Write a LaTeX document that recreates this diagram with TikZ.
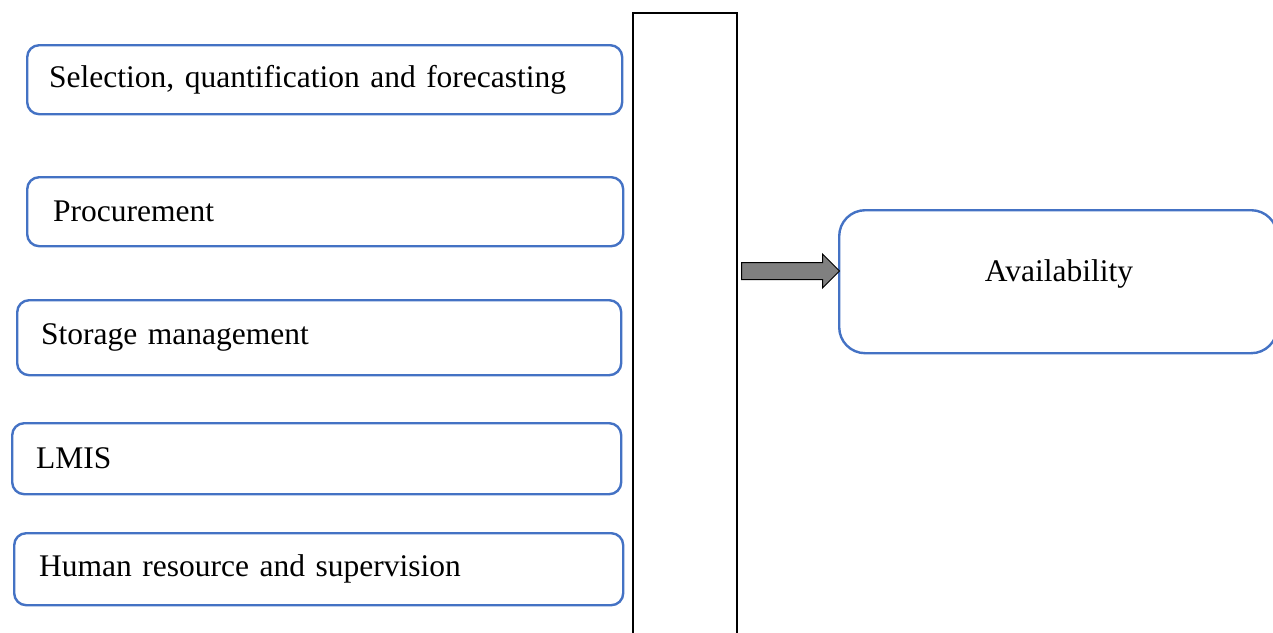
\documentclass[tikz,border=0pt]{standalone}
\usepackage{fontspec}
\setmainfont{Liberation Serif}
\usetikzlibrary{shapes.arrows}
\definecolor{boxblue}{HTML}{4472C4}
\definecolor{arrowgray}{HTML}{808080}
\begin{document}
\begin{tikzpicture}[x=1pt,y=-1pt,
  factor/.style={draw=boxblue, line width=2.4pt, rounded corners=12pt,
    anchor=north west, minimum height=#1, align=left,
    font=\fontsize{31.5}{36}\selectfont, inner ysep=0pt},
  bar/.style={draw=black, line width=2.4pt},
  outcome/.style={draw=boxblue, line width=2.4pt, rounded corners=26pt,
    anchor=north west},
  outcometext/.style={font=\fontsize{31.5}{36}\selectfont},
  flowarrow/.style={single arrow, draw=black, line width=1pt, fill=arrowgray,
    minimum height=98pt, inner xsep=0pt, inner ysep=8pt,
    single arrow head extend=8.5pt, single arrow tip angle=90}]
\useasboundingbox (0,0) rectangle (1273,632);
\begin{scope}
\clip (0,0) rectangle (1273,632);
% determinants of availability
\node[factor=69pt, inner xsep=22pt, text width=551pt] (sel) at (26,44)
  {Selection, quantification and forecasting};
\node[factor=69pt, inner xsep=26pt, text width=544pt] (proc) at (26,176)
  {Procurement};
\node[factor=75pt, inner xsep=24pt, text width=556pt] (stor) at (16,299)
  {Storage management};
\node[factor=71pt, inner xsep=24pt, text width=561pt] (lmis) at (11,422)
  {LMIS};
\node[factor=72pt, inner xsep=25pt, text width=559pt] (hr) at (13,532)
  {Human resource and supervision};
% grouping bar
\node[bar, anchor=north west, minimum width=104pt, minimum height=640pt,
  inner sep=0pt] (grp) at (632,12) {};
% outcome
\node[outcome, minimum width=438pt, minimum height=143pt] (avail) at (838,209) {};
\node[outcometext] (availtext) at (1059,274) {Availability};
% arrow from the bar to the outcome
\node[flowarrow, anchor=west] (flow) at (741,271) {};
\end{scope}
\end{tikzpicture}
\end{document}
